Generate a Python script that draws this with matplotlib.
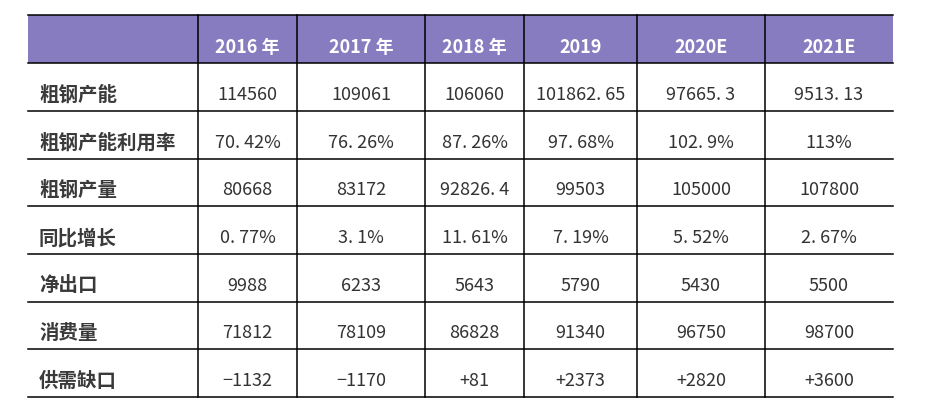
import matplotlib.pyplot as plt

plt.rcParams['font.family'] = ['Noto Sans CJK SC', 'DejaVu Sans']

columns = ["2016 年", "2017 年", "2018 年", "2019", "2020E", "2021E"]
row_labels = ["粗钢产能", "粗钢产能利用率", "粗钢产量", "同比增长", "净出口", "消费量", "供需缺口"]
capacity = ["114560", "109061", "106060", "101862. 65", "97665. 3", "9513. 13"]
utilization = ["70. 42%", "76. 26%", "87. 26%", "97. 68%", "102. 9%", "113%"]
output = ["80668", "83172", "92826. 4", "99503", "105000", "107800"]
growth = ["0. 77%", "3. 1%", "11. 61%", "7. 19%", "5. 52%", "2. 67%"]
net_export = ["9988", "6233", "5643", "5790", "5430", "5500"]
consumption = ["71812", "78109", "86828", "91340", "96750", "98700"]
gap = ["\u22121132", "\u22121170", "+81", "+2373", "+2820", "+3600"]
rows = [capacity, utilization, output, growth, net_export, consumption, gap]

# layout in pixels
col_edges = [28, 198, 297, 425, 524, 637, 765, 893]
top, head_bottom, bottom = 15.3, 63.3, 397.0
step = (bottom - head_bottom) / len(rows)
text_shift = 8

fig = plt.figure(figsize=(9.5, 4.04), dpi=100)
ax = fig.add_axes([0, 0, 1, 1])
ax.set_xlim(0, 950)
ax.set_ylim(404, 0)
ax.axis('off')

ax.add_patch(plt.Rectangle((col_edges[0], top), col_edges[-1] - col_edges[0],
                           head_bottom - top, color='#877cbf', lw=0))

hlines = [top, head_bottom] + [head_bottom + step * (i + 1) for i in range(len(rows))]
for y in hlines:
    ax.plot([col_edges[0], col_edges[-1]], [y, y], color='black', lw=1.1)
for x in col_edges[1:-1]:
    ax.plot([x, x], [top, bottom], color='black', lw=1.1)

centers = [(col_edges[i] + col_edges[i + 1]) / 2 for i in range(1, len(col_edges) - 1)]
head_y = (top + head_bottom) / 2 + text_shift
for cx, name in zip(centers, columns):
    ax.text(cx, head_y, name, ha='center', va='center', color='white',
            fontsize=13, fontweight='bold')

for r, (label, vals) in enumerate(zip(row_labels, rows)):
    cy = head_bottom + step * r + step / 2 + text_shift
    ax.text(col_edges[0] + 11, cy, label, ha='left', va='center', color='#3a3a3a',
            fontsize=14, fontweight='bold')
    for cx, v in zip(centers, vals):
        ax.text(cx, cy, v, ha='center', va='center', color='#333333', fontsize=13)

fig.savefig('out.png', dpi=100)
